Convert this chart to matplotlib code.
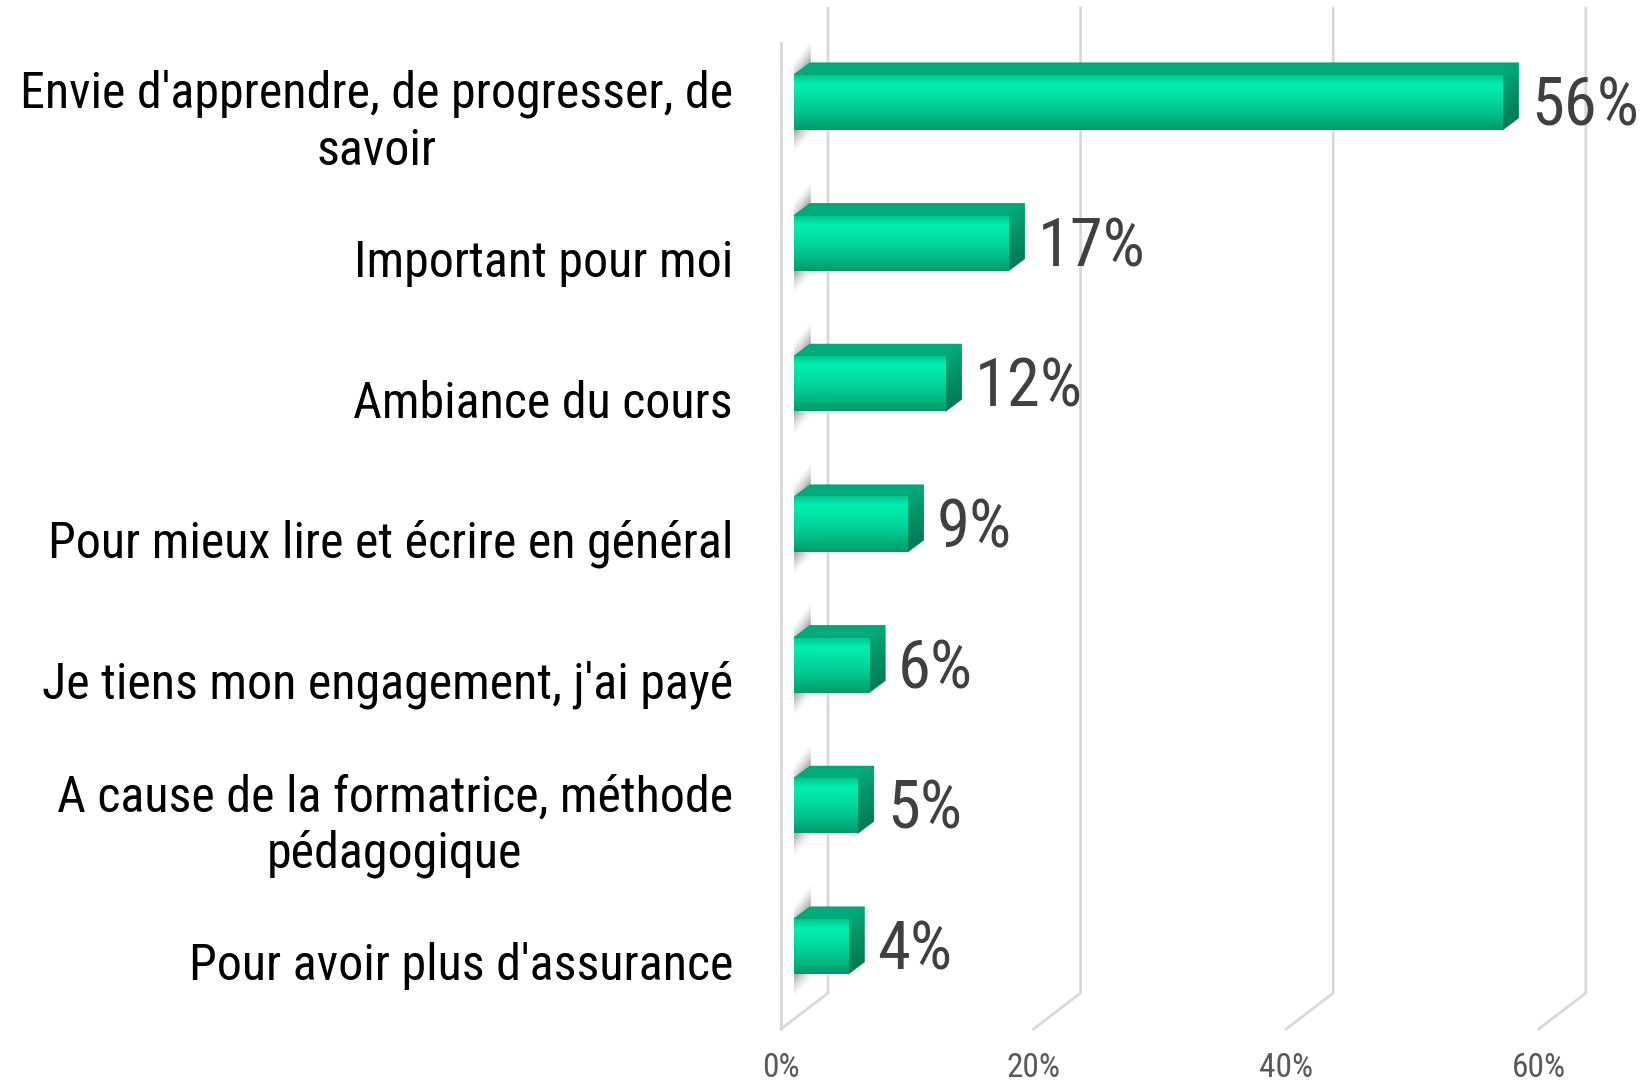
import numpy as np
import matplotlib.pyplot as plt
from matplotlib.patches import Polygon
from matplotlib.colors import LinearSegmentedColormap

plt.rcParams['font.family'] = ['Roboto Condensed', 'Archivo Narrow', 'DejaVu Sans']

labels = ["Envie d'apprendre, de progresser, de\nsavoir",
          "Important pour moi",
          "Ambiance du cours",
          "Pour mieux lire et écrire en général",
          "Je tiens mon engagement, j'ai payé",
          "A cause de la formatrice, méthode\npédagogique",
          "Pour avoir plus d'assurance"]
values = [56.1, 17.0, 12.0, 9.0, 5.95, 5.05, 4.3]
ticks = [0, 20, 40, 60]

W, H = 1643, 1081
fig = plt.figure(figsize=(W / 100, H / 100), dpi=100)
ax = fig.add_axes([0, 0, 1, 1])

# pixel scale of the (oblique) chart
px_x = 12.63    # px per percent
px_y = 140.67   # px per category
x0 = 794        # pixel of 0% on the bar plane
y0 = 102.5      # pixel of first category centre
ax.axis('off')

def dx(p):
    return p / px_x

def dy(p):
    return p / px_y

grid_c = '#d9d9d9'
# back wall gridlines + floor diagonals
y_top = dy(8 - y0)
y_back = dy(993 - y0)
for t in ticks:
    xb = t + dx(34)
    ax.plot([xb, xb, xb - dx(47)], [y_top, y_back, y_back + dy(36)],
            color=grid_c, lw=2, zorder=1, solid_joinstyle='miter')
    ax.text(t - dx(13), dy(1068 - y0), f'{t}%', ha='center', va='center',
            fontsize=24, color='#595959')
# front edge of the side wall
ax.plot([-dx(13), -dx(13)], [dy(43 - y0), dy(1029 - y0)], color=grid_c, lw=2, zorder=1)

front_cmap = LinearSegmentedColormap.from_list(
    'front', ['#00c98e', '#00f0b2', '#00e4a6', '#00d69b', '#00c68d', '#00b17d', '#009a6a'])
side_cmap = LinearSegmentedColormap.from_list('side', ['#00a674', '#008f63', '#007d56'])
grad = np.linspace(0, 1, 64).reshape(-1, 1)

h = dy(55)
ddx, ddy = dx(16), dy(-12)
for i, v in enumerate(values):
    top, bot = i - h / 2, i + h / 2
    # soft shadow on the side wall
    for k, a in enumerate([0.05, 0.07, 0.09, 0.12, 0.15]):
        e = 18 - 4 * k
        ax.add_patch(Polygon([(0, top - dy(e - 6)), (ddx * 1.05, top + ddy - dy(e + 4)),
                              (ddx * 1.05, bot + ddy + dy(e - 2)), (0, bot + dy(e + 4))],
                             closed=True, fc='#4a4a4a', alpha=a, lw=0, zorder=2))
    # front face
    ax.imshow(grad, extent=(0, v, bot, top), cmap=front_cmap, aspect='auto',
              interpolation='bilinear', zorder=4)
    # top face
    ax.add_patch(Polygon([(0, top), (v, top), (v + ddx, top + ddy), (ddx, top + ddy)],
                         closed=True, fc='#00aa7a', ec='#00a374', lw=0.8, zorder=3))
    # right face, drawn in bands for a vertical shade
    n = 12
    for j in range(n):
        a0, a1 = top + h * j / n, top + h * (j + 1) / n
        ax.add_patch(Polygon([(v, a0), (v + ddx, a0 + ddy), (v + ddx, a1 + ddy), (v, a1)],
                             closed=True, fc=side_cmap(j / (n - 1)),
                             ec=side_cmap(j / (n - 1)), lw=0.5, zorder=3))
    ax.text(v + dx(29), i + dy(23), f'{v:.0f}%', ha='left', va='baseline',
            fontsize=48, color='#404040', zorder=5)
    ax.text(dx(733 - x0), i + 0.14, labels[i], ha='right', va='center',
            multialignment='center', fontsize=36, color='black', linespacing=1.22)

ax.set_xlim(-x0 / px_x, (W - x0) / px_x)
ax.set_ylim((H - y0) / px_y, -y0 / px_y)
fig.savefig('out.png', dpi=100)
